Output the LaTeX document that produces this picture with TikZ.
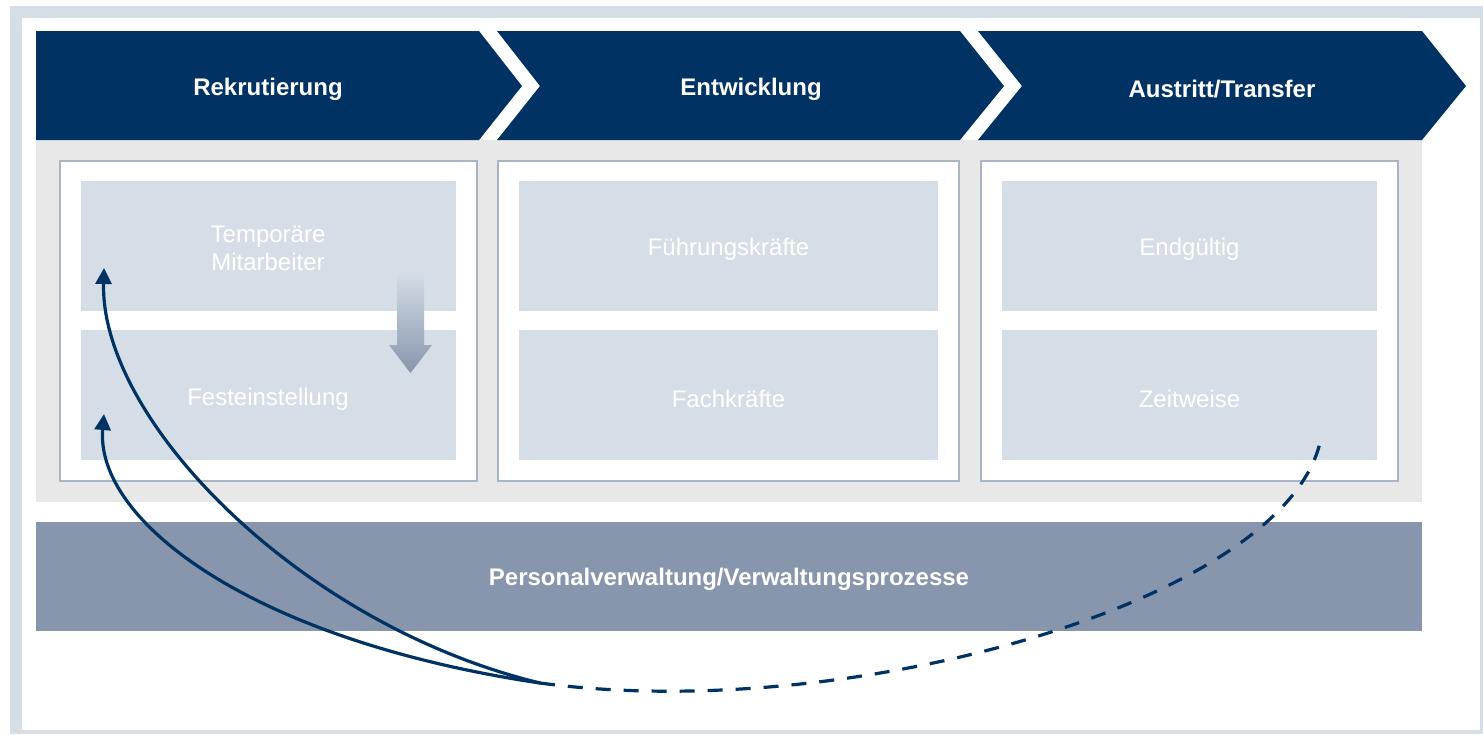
\documentclass[tikz,border=0pt]{standalone}
\usepackage{fontspec}
\setmainfont{Liberation Sans}
\usetikzlibrary{arrows.meta,shadings}
\definecolor{navy}{HTML}{003263}
\definecolor{frame}{HTML}{D5DDE5}
\definecolor{greybg}{HTML}{E8E8E8}
\definecolor{cellc}{HTML}{D5DEE6}
\definecolor{boxline}{HTML}{A9B4C5}
\definecolor{barc}{HTML}{8795AD}
\tikzset{
  chev/.style={fill=navy,draw=none},
  head/.style={text=white,font=\bfseries\fontsize{12}{14}\selectfont},
  colbox/.style={draw=boxline,line width=1.2pt,fill=white},
  cell/.style={fill=cellc,draw=none,inner sep=0pt,minimum height=65pt},
  celltext/.style={text=white,font=\fontsize{12}{14}\selectfont,align=center},
  flow/.style={draw=navy,line width=1.6pt},
  tip/.style={-{Triangle[length=8pt,width=8pt]}}
}
\begin{document}
\begin{tikzpicture}[x=0.5pt,y=-0.5pt]
\useasboundingbox (0,0) rectangle (1483,734);
% frame
\fill[frame] (10,6) rectangle (1483,734);
\fill[white] (22,18) rectangle (1480,730);
% grey area
\fill[greybg] (36,140) rectangle (1422,502);
% chevrons
\fill[chev] (36,31) -- (479,31) -- (522,86) -- (479,140) -- (36,140) -- cycle;
\fill[chev] (497,31) -- (960,31) -- (1004,86) -- (960,140) -- (497,140) -- (540,86) -- cycle;
\fill[chev] (978,31) -- (1422,31) -- (1466,86) -- (1422,140) -- (978,140) -- (1022,86) -- cycle;
\node[head] (h1) at (268,89.5) {Rekrutierung};
\node[head] (h2) at (751,89.5) {Entwicklung};
\node[head] (h3) at (1222,89) {Austritt/Transfer};
% column boxes
\draw[colbox] (60,161) rectangle (477,481);
\draw[colbox] (498,161) rectangle (959,481);
\draw[colbox] (981,161) rectangle (1398,481);
% cells
\node[cell,minimum width=187.5pt] (c11) at (268.5,246) {};
\node[cell,minimum width=187.5pt] (c12) at (268.5,395) {};
\node[cell,minimum width=209.5pt] (c21) at (728.5,246) {};
\node[cell,minimum width=209.5pt] (c22) at (728.5,395) {};
\node[cell,minimum width=187.5pt] (c31) at (1189.5,246) {};
\node[cell,minimum width=187.5pt] (c32) at (1189.5,395) {};
\node[celltext] (t11) at (268,248) {Temporäre\\Mitarbeiter};
\node[celltext] (t12) at (268,399) {Festeinstellung};
\node[celltext] (t21) at (728.5,249) {Führungskräfte};
\node[celltext] (t22) at (728.5,399) {Fachkräfte};
\node[celltext] (t31) at (1189.5,249) {Endgültig};
\node[celltext] (t32) at (1189.5,399) {Zeitweise};
% gradient arrow
\shade[top color=cellc,bottom color=barc,draw=none]
  (397,272) -- (424,272) -- (424,345) -- (432,345) -- (410.5,373) -- (389,345) -- (397,345) -- cycle;
% bottom bar
\fill[barc] (36,522) rectangle (1422,631);
\node[head] (bar) at (729,579) {Personalverwaltung/Verwaltungsprozesse};
% flows
\coordinate (hub) at (540,683);
\coordinate (t1) at (104,268);
\coordinate (t2) at (104,414);
\coordinate (ds) at (1321,438);
\draw[flow,tip] (hub) .. controls (300,625) and (100,420) .. (t1);
\draw[flow,tip] (hub) .. controls (250,640) and (95,520) .. (t2);
\draw[flow,dash pattern=on 7.5pt off 6.5pt] (hub) .. controls (850,725) and (1290,600) .. (ds);
\end{tikzpicture}
\end{document}
